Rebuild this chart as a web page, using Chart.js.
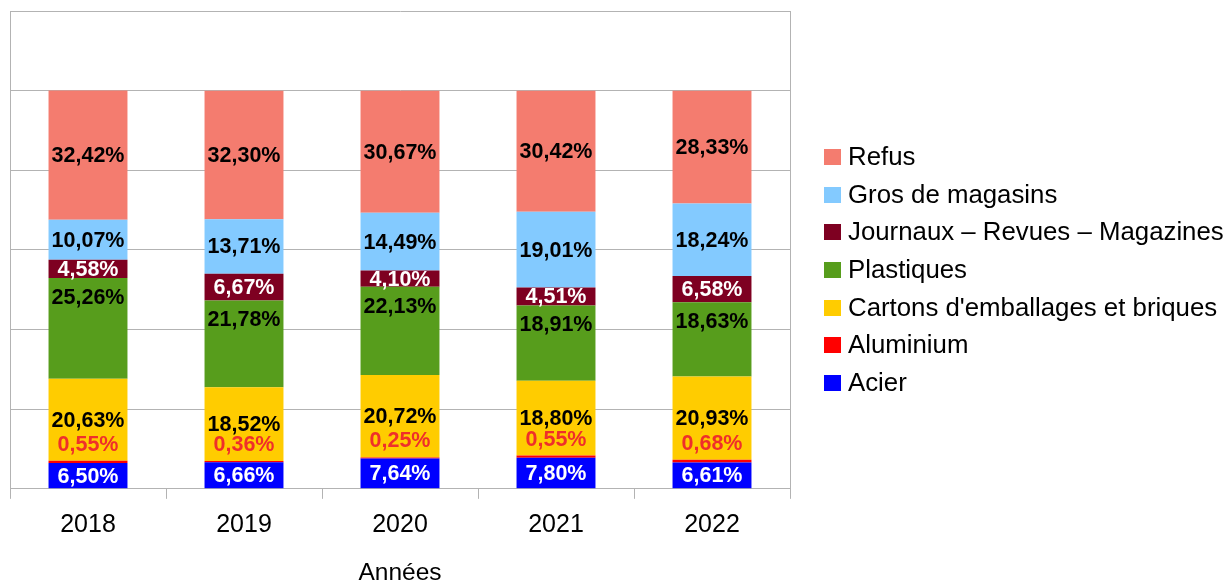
<!DOCTYPE html>
<html>
<head>
<meta charset="utf-8">
<script src="https://cdn.jsdelivr.net/npm/chart.js@4"></script>
<style>
html,body{margin:0;padding:0;background:#fff;}
#wrap{width:1229px;height:582px;}
</style>
</head>
<body>
<div id="wrap"><canvas id="c" width="1229" height="582"></canvas></div>
<script>
const years = ['2018', '2019', '2020', '2021', '2022'];
const acier = [6.50, 6.66, 7.64, 7.80, 6.61];
const aluminium = [0.55, 0.36, 0.25, 0.55, 0.68];
const cartons = [20.63, 18.52, 20.72, 18.80, 20.93];
const plastiques = [25.26, 21.78, 22.13, 18.91, 18.63];
const journaux = [4.58, 6.67, 4.10, 4.51, 6.58];
const grosMagasins = [10.07, 13.71, 14.49, 19.01, 18.24];
const refus = [32.42, 32.30, 30.67, 30.42, 28.33];
const axisTitle = 'Années';

const FONT = "'Liberation Sans', Arial, sans-serif";

const datasets = [
  {label: 'Acier', data: acier, backgroundColor: '#0000ff', labelColor: '#ffffff', labelMode: 'center'},
  {label: 'Aluminium', data: aluminium, backgroundColor: '#ff0000', labelColor: '#ef2f2a', labelMode: 'above'},
  {label: "Cartons d'emballages et briques", data: cartons, backgroundColor: '#ffcc00', labelColor: '#000000', labelMode: 'center'},
  {label: 'Plastiques', data: plastiques, backgroundColor: '#579d1c', labelColor: '#000000', labelMode: 'top'},
  {label: 'Journaux – Revues – Magazines', data: journaux, backgroundColor: '#7e0021', labelColor: '#ffffff', labelMode: 'center'},
  {label: 'Gros de magasins', data: grosMagasins, backgroundColor: '#83caff', labelColor: '#000000', labelMode: 'center'},
  {label: 'Refus', data: refus, backgroundColor: '#f47c6f', labelColor: '#000000', labelMode: 'center'}
];
datasets.forEach(d => { d.borderWidth = 0; d.categoryPercentage = 1; d.barPercentage = 0.506; });

const fmt = v => v.toFixed(2).replace('.', ',') + '%';

const valueLabels = {
  id: 'valueLabels',
  afterDatasetsDraw(chart) {
    const ctx = chart.ctx;
    ctx.save();
    ctx.font = 'bold 21.5px ' + FONT;
    ctx.textAlign = 'center';
    ctx.textBaseline = 'middle';
    chart.data.datasets.forEach((ds, di) => {
      const meta = chart.getDatasetMeta(di);
      meta.data.forEach((bar, i) => {
        const top = Math.min(bar.y, bar.base);
        const bottom = Math.max(bar.y, bar.base);
        let y = (top + bottom) / 2;
        if (ds.labelMode === 'top') y = top + 19;
        if (ds.labelMode === 'above') y = top - 17;
        ctx.fillStyle = ds.labelColor;
        ctx.fillText(fmt(ds.data[i]), bar.x, y + 1);
      });
    });
    ctx.restore();
  }
};

const sideLegend = {
  id: 'sideLegend',
  afterDraw(chart) {
    const ctx = chart.ctx;
    ctx.save();
    ctx.font = '25.8px ' + FONT;
    ctx.textAlign = 'left';
    ctx.textBaseline = 'middle';
    const items = chart.data.datasets.slice().reverse();
    items.forEach((ds, i) => {
      const cy = 157 + i * 37.67;
      ctx.fillStyle = ds.backgroundColor;
      ctx.fillRect(824, Math.round(cy - 8), 17, 16);
      ctx.fillStyle = '#000000';
      ctx.fillText(ds.label, 848, cy + 1);
    });
    ctx.restore();
  }
};

new Chart(document.getElementById('c'), {
  type: 'bar',
  data: {labels: years, datasets: datasets},
  options: {
    responsive: false,
    animation: false,
    devicePixelRatio: 1,
    layout: {padding: {left: 10, right: 439, top: 11, bottom: 0}},
    plugins: {legend: {display: false}, tooltip: {enabled: false}},
    scales: {
      x: {
        stacked: true,
        grid: {offset: true, drawOnChartArea: false, drawTicks: true, tickLength: 10, color: '#b3b3b3'},
        border: {display: true, color: '#b3b3b3'},
        ticks: {font: {size: 25, family: FONT}, color: '#000000', padding: 11},
        title: {display: true, text: axisTitle, color: '#000000', font: {size: 24.5, family: FONT, lineHeight: 0.7}, padding: {top: 14, bottom: 0}}
      },
      y: {
        stacked: true,
        min: 0, max: 120,
        ticks: {display: false, stepSize: 20},
        grid: {drawTicks: false, color: '#b3b3b3'},
        border: {display: true, color: '#b3b3b3'}
      },
      y2: {
        position: 'right',
        min: 0, max: 120,
        ticks: {display: false, stepSize: 20},
        grid: {drawTicks: false, drawOnChartArea: false},
        border: {display: true, color: '#b3b3b3'}
      }
    }
  },
  plugins: [valueLabels, sideLegend]
});
</script>
</body>
</html>
